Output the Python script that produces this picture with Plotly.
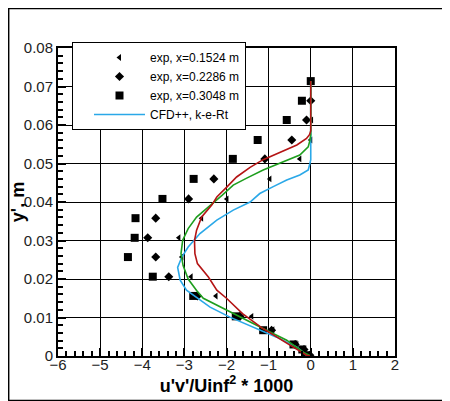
"""Reynolds shear stress profiles: experiment vs CFD++"""

import plotly.graph_objects as go

# experiment, x=0.1524 m
exp1_y = [0.0613, 0.0561, 0.0512, 0.0460, 0.0408, 0.0358, 0.0307, 0.0257, 0.0206, 0.0156, 0.0103, 0.0068, 0.0030, 0.0004]
exp1_uv = [0.02, 0.0, -0.26, -0.97, -1.99, -2.59, -3.13, -3.06, -2.84, -2.25, -1.40, -0.90, -0.33, -0.06]

# experiment, x=0.2286 m
exp2_y = [0.0663, 0.0613, 0.0561, 0.0512, 0.0460, 0.0408, 0.0358, 0.0307, 0.0257, 0.0206, 0.0156, 0.0103, 0.0067, 0.0030, 0.0017, 0.0002]
exp2_uv = [0.0, -0.10, -0.45, -1.09, -2.30, -2.90, -3.68, -3.87, -3.68, -3.37, -2.69, -1.68, -0.93, -0.37, -0.16, -0.02]

# experiment, x=0.3048 m
exp3_y = [0.0714, 0.0663, 0.0613, 0.0561, 0.0512, 0.0460, 0.0408, 0.0358, 0.0307, 0.0257, 0.0206, 0.0156, 0.0103, 0.0067, 0.0030, 0.0017, 0.0002]
exp3_uv = [0.0, -0.21, -0.57, -1.26, -1.85, -2.78, -3.52, -4.16, -4.18, -4.34, -3.75, -2.79, -1.78, -1.13, -0.41, -0.20, -0.10]

# CFD++ k-e-Rt (blue, in legend)
cfd_blue_y = [0.0714, 0.0510, 0.0500, 0.0483, 0.0470, 0.0457, 0.0440, 0.0422, 0.0400, 0.0379, 0.0353, 0.0318, 0.0283, 0.0257,
              0.0230, 0.0197, 0.0171, 0.0155, 0.0127, 0.0101, 0.0075, 0.0049, 0.0023, 0.0002, 0.0]
cfd_blue_uv = [0.0, 0.0, -0.02, -0.06, -0.26, -0.57, -0.89, -1.21, -1.44, -1.84, -2.23, -2.63, -2.91, -3.06,
               -3.16, -3.10, -2.95, -2.75, -2.39, -1.92, -1.36, -0.81, -0.33, -0.10, 0.0]

# CFD (green)
cfd_green_y = [0.0714, 0.0575, 0.0560, 0.0543, 0.0522, 0.0504, 0.0483, 0.0462, 0.0444, 0.0418, 0.0392, 0.0361, 0.0331, 0.0301,
               0.0266, 0.0235, 0.0200, 0.0170, 0.0150, 0.0119, 0.0093, 0.0067, 0.0041, 0.0010, 0.0]
cfd_green_uv = [0.0, 0.0, -0.02, -0.06, -0.26, -0.65, -1.13, -1.52, -1.84, -2.10, -2.39, -2.71, -2.91, -3.04,
                -3.08, -3.03, -2.91, -2.71, -2.55, -2.00, -1.52, -1.05, -0.57, -0.18, 0.0]

# CFD (red)
cfd_red_y = [0.0714, 0.0585, 0.0575, 0.0565, 0.0548, 0.0530, 0.0510, 0.0490, 0.0465, 0.0438, 0.0413, 0.0392, 0.0361, 0.0327,
             0.0300, 0.0266, 0.0240, 0.0205, 0.0171, 0.0150, 0.0110, 0.0073, 0.0049, 0.0023, 0.0002, 0.0]
cfd_red_uv = [0.0, 0.0, -0.03, -0.10, -0.33, -0.73, -1.13, -1.44, -1.76, -2.00, -2.23, -2.35, -2.59, -2.71,
              -2.76, -2.75, -2.69, -2.43, -2.23, -2.00, -1.62, -1.16, -0.81, -0.42, -0.10, 0.0]

fig = go.Figure()

fig.add_trace(go.Scatter(x=exp1_uv, y=exp1_y, mode='markers', name='exp, x=0.1524 m',
                         marker=dict(symbol='triangle-left', size=6, color='black')))
fig.add_trace(go.Scatter(x=exp2_uv, y=exp2_y, mode='markers', name='exp, x=0.2286 m',
                         marker=dict(symbol='diamond', size=7, color='black')))
fig.add_trace(go.Scatter(x=exp3_uv, y=exp3_y, mode='markers', name='exp, x=0.3048 m',
                         marker=dict(symbol='square', size=8, color='black')))

fig.add_trace(go.Scatter(x=cfd_blue_uv, y=cfd_blue_y, mode='lines', name='CFD++, k-e-Rt',
                         line=dict(color='#2aa8e8', width=1.6)))
fig.add_trace(go.Scatter(x=cfd_green_uv, y=cfd_green_y, mode='lines',
                         line=dict(color='#1e9e1e', width=1.6), showlegend=False))
fig.add_trace(go.Scatter(x=cfd_red_uv, y=cfd_red_y, mode='lines',
                         line=dict(color='#b41414', width=1.6), showlegend=False))

# the page body adds an 8 px offset, so the figure is 8 px smaller than the window
W, H = 442, 393
L, T = 50, 40
pw, ph = 337, 308
R, B = W - L - pw, H - T - ph

axis_common = dict(showgrid=True, gridcolor='black', gridwidth=1,
                   showline=True, linecolor='black', linewidth=2, mirror=True,
                   ticks='inside', ticklen=8, tickwidth=2, tickcolor='black',
                   zeroline=False,
                   tickfont=dict(family='Liberation Sans, Arial', size=15, color='#222'))

fig.update_layout(
    width=W, height=H,
    margin=dict(l=L, r=R, t=T, b=B, autoexpand=False),
    paper_bgcolor='white', plot_bgcolor='white',
    font=dict(family='Liberation Sans, Arial', color='black'),
    xaxis=dict(range=[-6, 2], dtick=1, ticklabelstandoff=-6,
               minor=dict(dtick=0.2, ticks='inside', ticklen=5, tickcolor='black', showgrid=False),
               title=dict(text="<b>u'v'/Uinf<sup>2</sup> * 1000</b>", font=dict(size=18), standoff=4),
               **axis_common),
    yaxis=dict(range=[0, 0.08], dtick=0.01,
               minor=dict(dtick=0.002, ticks='inside', ticklen=5, tickcolor='black', showgrid=False),
               title=dict(text="<b>y', m</b>", font=dict(size=18), standoff=0),
               **axis_common),
    legend=dict(x=14 / pw, y=1 + 6 / ph, xanchor='left', yanchor='top',
                bgcolor='white', bordercolor='black', borderwidth=1,
                font=dict(size=12), traceorder='normal',
                indentation=16, itemwidth=51, entrywidth=170),
    shapes=[dict(type='rect', xref='paper', yref='paper',
                 x0=-L / pw + 0.002, x1=1 + R / pw - 0.002, y0=-B / ph + 0.002, y1=1 + T / ph - 0.002,
                 line=dict(color='black', width=1.5), layer='above')],
)

fig.write_html("out.html")
